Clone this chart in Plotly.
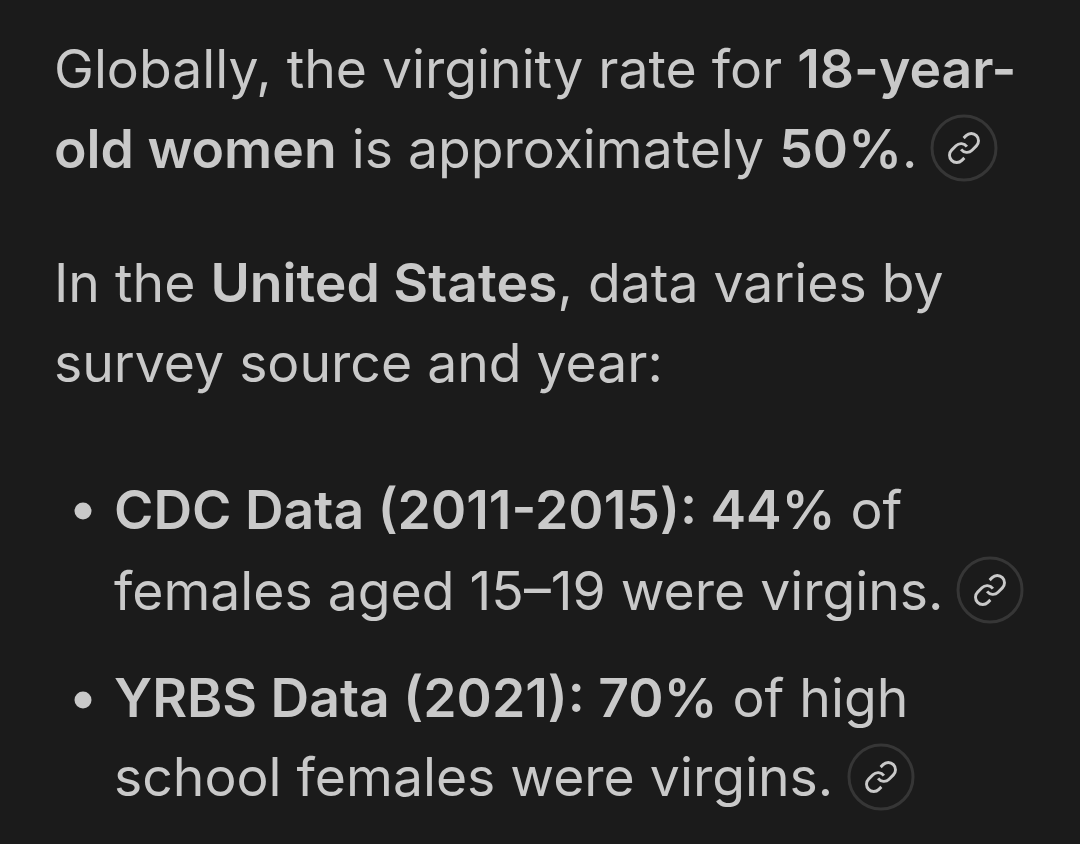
import plotly.graph_objects as go

BG = "#1b1b1b"
TEXT = "#c9c9c9"
RING = "#363636"

B = '<span style="font-weight:600">'
E = "</span>"

# text lines: x of left edge, y of line centre, markup
text_x = [52, 52, 52, 52, 112, 112, 112, 112]
text_y = [68, 148, 282, 362, 509, 590, 697, 776]
text_lines = [
    f"Globally, the virginity rate for {B}18-year-{E}",
    f"{B}old women{E} is approximately {B}50%{E}.",
    f"In the {B}United States{E}, data varies by",
    "survey source and year:",
    f"{B}CDC Data (2011-2015): 44%{E} of",
    "females aged 15–19 were virgins.",
    f"{B}YRBS Data (2021): 70%{E} of high",
    "school females were virgins.",
]

bullet_x = [83, 83]
bullet_y = [511, 700]

link_x = [964, 990, 881]
link_y = [148, 590, 777]

# chain glyph outline around its centre, one half; the other half is its point mirror
ICON_SCALE = 1.45
icon_start = (-2, 1)
icon_segments = [
    ("C", (-0.18, 3.43), (3.39, 3.69), (5.54, 1.54)),
    ("L", (8.54, -1.46)),
    ("C", (10.49, -3.41), (10.49, -6.59), (8.54, -8.54)),
    ("C", (6.59, -10.49), (3.42, -10.48), (1.47, -8.53)),
    ("L", (-0.25, -6.82)),
]


def icon_path(cx, cy, s):
    def pt(p):
        return f"{cx + s * ICON_SCALE * p[0]:.2f} {cy + s * ICON_SCALE * p[1]:.2f}"

    parts = [f"M {pt(icon_start)}"]
    for seg in icon_segments:
        parts.append(seg[0] + " " + " ".join(pt(p) for p in seg[1:]))
    return " ".join(parts)


fig = go.Figure()

fig.add_trace(go.Scatter(
    x=bullet_x, y=bullet_y, mode="markers",
    marker=dict(size=17, color=TEXT), hoverinfo="skip",
))

for cx, cy in zip(link_x, link_y):
    fig.add_shape(type="circle", x0=cx - 32, x1=cx + 32, y0=cy - 32, y1=cy + 32,
                  line=dict(color=RING, width=3), fillcolor=BG)
    for s in (1, -1):
        fig.add_shape(type="path", path=icon_path(cx, cy, s),
                      line=dict(color=TEXT, width=2.9))

for x, y, line in zip(text_x, text_y, text_lines):
    fig.add_annotation(x=x, y=y, text=line, xanchor="left", yanchor="middle",
                       showarrow=False, align="left")

fig.update_layout(
    width=1080, height=844,
    margin=dict(l=0, r=0, t=0, b=0),
    paper_bgcolor=BG, plot_bgcolor=BG,
    font=dict(family="Inter, sans-serif", size=53.5, color=TEXT),
    showlegend=False,
    xaxis=dict(range=[0, 1080], visible=False, fixedrange=True),
    yaxis=dict(range=[844, 0], visible=False, fixedrange=True),
)

# the page's default body margin would push the figure off by 8px
fig.write_html("out.html", config=dict(displayModeBar=False),
               post_script=f"document.body.style.margin='0';document.body.style.background='{BG}';")
